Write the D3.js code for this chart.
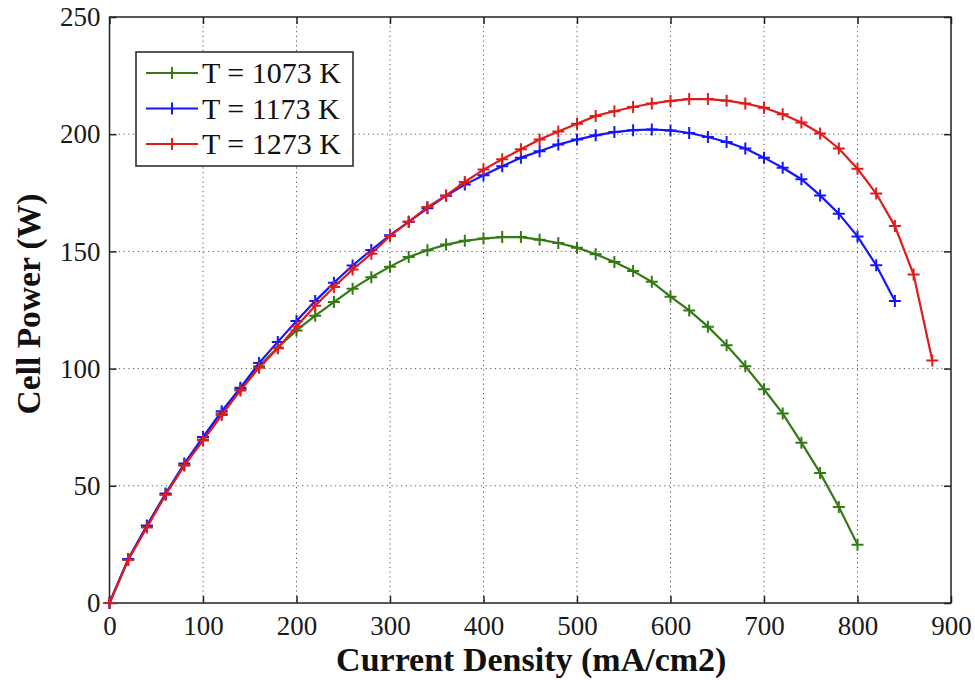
<!DOCTYPE html>
<html>
<head>
<meta charset="utf-8">
<script src="https://cdn.jsdelivr.net/npm/d3@7"></script>
<style>
  body { margin: 0; background: #fff; }
  svg { display: block; }
  svg text { font-family: "Liberation Serif", "DejaVu Serif", serif; }
</style>
</head>
<body>
<div id="chart"></div>
<script>
// current density steps (mA/cm2)
var density = d3.range(0, 900, 20);

var series = ["T = 1073 K", "T = 1173 K", "T = 1273 K"];
var colors = ["#347a14", "#1414ff", "#e01b1b"];

var power1073 = [0, 18.5, 32.8, 46.3, 58.8, 69.8, 80.8, 91.3, 101, 109, 116.3, 122.6, 128.4, 134.1, 139, 143.5,
    147.6, 150.5, 152.9, 154.5, 155.5, 156.1, 156.1, 155, 153.6, 151.6, 148.8, 145.5, 141.6, 137, 130.7,
    124.8, 117.9, 110, 101, 91.2, 80.8, 68.4, 55.5, 41, 24.9];
var power1173 = [0, 18.8, 33.1, 46.7, 59.5, 70.8, 81.8, 91.8, 102.4, 111.4, 120.3, 128.8, 136.6, 144, 150.6, 156.9,
    162.6, 168.4, 173.7, 178.5, 182.5, 186.3, 190, 192.7, 195.6, 197.7, 199.5, 200.9, 201.7, 202, 201.6,
    200.5, 198.8, 196.7, 193.9, 190, 185.7, 180.8, 173.9, 166.1, 156.4, 144.1, 128.8];
var power1273 = [0, 18.5, 32.2, 46.2, 58.7, 69.3, 80.2, 90.7, 100.4, 108.7, 118, 126.8, 134.8, 142.3, 149, 156.6,
    162.6, 168.9, 173.9, 179.6, 184.9, 189.3, 193.6, 197.7, 201.2, 204.5, 207.8, 209.8, 211.6, 213.1, 214.2,
    215, 215, 214.3, 213.1, 211.3, 208.5, 205, 200.3, 193.9, 185.3, 174.7, 160.8, 140.1, 103.5];

var xTicks = [0, 100, 200, 300, 400, 500, 600, 700, 800, 900];
var yTicks = [0, 50, 100, 150, 200, 250];

function base() {
    var W = 975, H = 680;
    var left = 109.5, right = 951, top = 17, bottom = 603;

    var svg = d3.select("#chart").append("svg")
        .attr("width", W)
        .attr("height", H);

    var x = d3.scaleLinear().domain([0, 900]).range([left, right]);
    var y = d3.scaleLinear().domain([0, 250]).range([bottom, top]);

    // dotted grid
    svg.append("g").selectAll("line.gx")
        .data(xTicks.slice(1, -1))
        .enter().append("line")
        .attr("x1", d => x(d)).attr("x2", d => x(d))
        .attr("y1", top).attr("y2", bottom)
        .attr("stroke", "#555").attr("stroke-width", 1)
        .attr("stroke-dasharray", "1.2,3.5");
    svg.append("g").selectAll("line.gy")
        .data(yTicks.slice(1, -1))
        .enter().append("line")
        .attr("y1", d => y(d)).attr("y2", d => y(d))
        .attr("x1", left).attr("x2", right)
        .attr("stroke", "#555").attr("stroke-width", 1)
        .attr("stroke-dasharray", "1.2,3.5");

    // axes with inward ticks on all sides
    svg.append("g")
        .attr("transform", "translate(0," + bottom + ")")
        .call(d3.axisBottom(x).tickValues(xTicks).tickSizeInner(-7).tickSizeOuter(0).tickPadding(13))
        .call(g => g.select(".domain").remove())
        .call(g => g.selectAll("text").attr("font-size", 27).attr("fill", "#1a1a1a"));
    svg.append("g")
        .attr("transform", "translate(0," + top + ")")
        .call(d3.axisTop(x).tickValues(xTicks).tickSizeInner(-7).tickSizeOuter(0).tickFormat(""))
        .call(g => g.select(".domain").remove());
    svg.append("g")
        .attr("transform", "translate(" + left + ",0)")
        .call(d3.axisLeft(y).tickValues(yTicks).tickSizeInner(-7).tickSizeOuter(0).tickPadding(9))
        .call(g => g.select(".domain").remove())
        .call(g => g.selectAll("text").attr("font-size", 27).attr("fill", "#1a1a1a"));
    svg.append("g")
        .attr("transform", "translate(" + right + ",0)")
        .call(d3.axisRight(y).tickValues(yTicks).tickSizeInner(-7).tickSizeOuter(0).tickFormat(""))
        .call(g => g.select(".domain").remove());

    svg.selectAll(".tick line").attr("stroke", "#222").attr("stroke-width", 1.5);

    svg.append("rect")
        .attr("x", left).attr("y", top)
        .attr("width", right - left).attr("height", bottom - top)
        .attr("fill", "none").attr("stroke", "#222").attr("stroke-width", 1.5);

    // curves
    var allData = [power1073, power1173, power1273];
    var line = d3.line()
        .x((d, i) => x(density[i]))
        .y(d => y(d));

    allData.forEach(function(vals, k) {
        var g = svg.append("g");
        g.append("path")
            .datum(vals)
            .attr("fill", "none")
            .attr("stroke", colors[k])
            .attr("stroke-width", 2.2)
            .attr("d", line);
        var m = 6;
        g.selectAll("path.mark")
            .data(vals)
            .enter().append("path")
            .attr("class", "mark")
            .attr("d", (d, i) => {
                var cx = x(density[i]), cy = y(d);
                return "M" + (cx - m) + "," + cy + "H" + (cx + m) + "M" + cx + "," + (cy - m) + "V" + (cy + m);
            })
            .attr("stroke", colors[k])
            .attr("stroke-width", 2);
    });

    // legend
    var lg = svg.append("g");
    lg.append("rect")
        .attr("x", 136).attr("y", 52)
        .attr("width", 217).attr("height", 114)
        .attr("fill", "#fff").attr("stroke", "#222").attr("stroke-width", 1.5);
    series.forEach(function(name, k) {
        var cy = 73 + k * 35.5;
        lg.append("line")
            .attr("x1", 146).attr("x2", 198)
            .attr("y1", cy).attr("y2", cy)
            .attr("stroke", colors[k]).attr("stroke-width", 2.2);
        lg.append("line")
            .attr("x1", 172).attr("x2", 172)
            .attr("y1", cy - 6).attr("y2", cy + 6)
            .attr("stroke", colors[k]).attr("stroke-width", 2);
        lg.append("text")
            .attr("x", 202).attr("y", cy + 10)
            .attr("font-size", 30)
            .attr("fill", "#111")
            .text(name);
    });

    // axis titles
    svg.append("text")
        .attr("x", (left + right) / 2 + 1).attr("y", 671)
        .attr("text-anchor", "middle")
        .attr("font-size", 34).attr("font-weight", "bold")
        .attr("fill", "#111")
        .text("Current Density (mA/cm2)");
    svg.append("text")
        .attr("transform", "translate(40,304) rotate(-90)")
        .attr("text-anchor", "middle")
        .attr("font-size", 33.5).attr("font-weight", "bold")
        .attr("fill", "#111")
        .text("Cell Power (W)");
}

window.onload = base;
</script>
</body>
</html>
